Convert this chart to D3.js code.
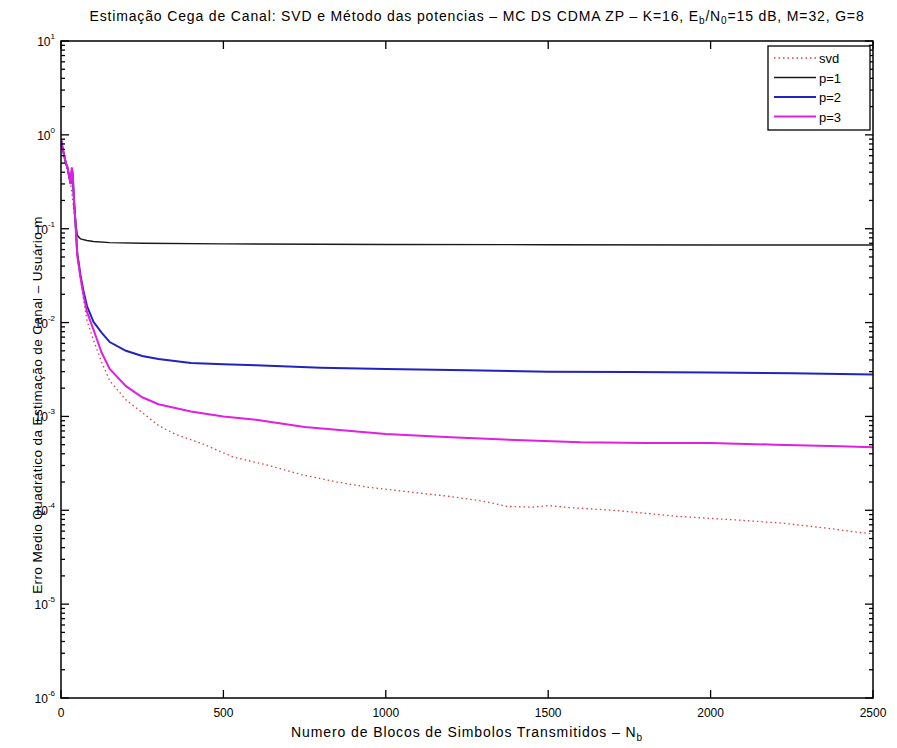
<!DOCTYPE html>
<html>
<head>
<meta charset="utf-8">
<script src="https://cdn.jsdelivr.net/npm/d3@7"></script>
<style>
  body { margin: 0; background: #fff; }
  text { font-family: "Liberation Sans", Arial, sans-serif; fill: #000; }
</style>
</head>
<body>
<div id="chart-container"></div>
<script>
// data (blocks -> mean squared error)
var xTicks = [0, 500, 1000, 1500, 2000, 2500];
var yExps = [1, 0, -1, -2, -3, -4, -5, -6];

var svdN = [0, 10, 20, 30, 40, 50, 60, 70, 80, 100, 125, 150, 200, 250, 300, 350, 430, 530, 640, 740, 850, 940, 1050, 1200, 1300, 1375, 1450, 1500, 1580, 1700, 1785, 1900, 2000, 2100, 2220, 2350, 2460, 2500];
var svdV = [0.85, 0.6, 0.42, 0.3, 0.15, 0.06, 0.03, 0.017, 0.0105, 0.0065, 0.0038, 0.0024, 0.0015, 0.0011, 0.0008, 0.00065, 0.00052, 0.00037, 0.0003, 0.00024, 0.0002, 0.000177, 0.00016, 0.00014, 0.000125, 0.00011, 0.000108, 0.000112, 0.000106, 0.0001, 0.000094, 0.000086, 0.000082, 0.000078, 0.000073, 0.000065, 0.000058, 0.000056];

var p1N = [0, 5, 10, 15, 20, 25, 30, 33, 36, 40, 45, 50, 60, 80, 100, 150, 250, 500, 1000, 1500, 2000, 2500];
var p1V = [0.9, 0.72, 0.6, 0.5, 0.45, 0.36, 0.3, 0.42, 0.38, 0.2, 0.12, 0.085, 0.078, 0.075, 0.073, 0.071, 0.070, 0.069, 0.068, 0.0675, 0.067, 0.067];

var p2N = [0, 5, 10, 15, 20, 25, 30, 33, 36, 40, 45, 50, 60, 70, 80, 100, 125, 150, 200, 250, 300, 400, 500, 600, 800, 1000, 1250, 1500, 1750, 2000, 2250, 2500];
var p2V = [0.9, 0.72, 0.6, 0.5, 0.45, 0.36, 0.3, 0.42, 0.38, 0.2, 0.11, 0.055, 0.032, 0.021, 0.015, 0.0102, 0.0078, 0.0062, 0.005, 0.0044, 0.0041, 0.0037, 0.0036, 0.0035, 0.0033, 0.0032, 0.0031, 0.0030, 0.00298, 0.00293, 0.00288, 0.0028];

var p3N = [0, 5, 10, 15, 20, 25, 30, 33, 36, 40, 45, 50, 60, 70, 80, 100, 125, 150, 200, 250, 300, 400, 500, 600, 750, 1000, 1200, 1400, 1600, 1800, 2000, 2200, 2400, 2500];
var p3V = [0.9, 0.72, 0.6, 0.5, 0.45, 0.36, 0.3, 0.45, 0.4, 0.2, 0.11, 0.052, 0.03, 0.019, 0.013, 0.0084, 0.0048, 0.0032, 0.0021, 0.0016, 0.00135, 0.00113, 0.001, 0.00092, 0.00077, 0.00065, 0.0006, 0.00056, 0.00053, 0.00052, 0.00052, 0.0005, 0.00048, 0.00047];

var seriesNames = ["svd", "p=1", "p=2", "p=3"];

var margin = { top: 41, right: 24, bottom: 50, left: 61 };
var width = 897 - margin.left - margin.right;
var height = 748 - margin.top - margin.bottom;

var svg = d3.select("#chart-container")
  .append("svg")
  .attr("width", 897)
  .attr("height", 748);

var g = svg.append("g")
  .attr("transform", "translate(" + margin.left + "," + margin.top + ")");

var xScale = d3.scaleLinear().domain([0, 2500]).range([0, width]);
var yScale = d3.scaleLog().domain([1e-6, 10]).range([height, 0]);

// lines
var line = d3.line()
  .x(function (d) { return xScale(d[0]); })
  .y(function (d) { return yScale(d[1]); });

function pairs(n, v) { return n.map(function (d, i) { return [d, v[i]]; }); }

g.append("clipPath").attr("id", "clip").append("rect").attr("width", width).attr("height", height);
var plot = g.append("g").attr("clip-path", "url(#clip)");

plot.append("path").datum(pairs(p1N, p1V)).attr("d", line)
  .style("fill", "none").style("stroke", "#1a1a1a").style("stroke-width", 1.4);
plot.append("path").datum(pairs(svdN, svdV)).attr("d", line)
  .style("fill", "none").style("stroke", "#d84040").style("stroke-width", 1.3)
  .style("stroke-dasharray", "1.5,3");
plot.append("path").datum(pairs(p2N, p2V)).attr("d", line)
  .style("fill", "none").style("stroke", "#2222c0").style("stroke-width", 2);
plot.append("path").datum(pairs(p3N, p3V)).attr("d", line)
  .style("fill", "none").style("stroke", "#e020e0").style("stroke-width", 2);

// frame
g.append("rect").attr("width", width).attr("height", height)
  .style("fill", "none").style("stroke", "#000").style("stroke-width", 1.5);

// minor + major ticks, drawn inward on all four sides like matlab
var yMinor = [];
for (var e = -6; e < 1; e++) {
  for (var k = 2; k <= 9; k++) yMinor.push(k * Math.pow(10, e));
}

function tickLines(sel, vals, len) {
  vals.forEach(function (v) {
    var y = yScale(v);
    sel.append("line").attr("x1", 0).attr("x2", len).attr("y1", y).attr("y2", y);
    sel.append("line").attr("x1", width).attr("x2", width - len).attr("y1", y).attr("y2", y);
  });
}

var ticks = g.append("g").attr("stroke", "#000").attr("stroke-width", 1.3);
tickLines(ticks, yMinor, 4);
tickLines(ticks, yExps.map(function (d) { return Math.pow(10, d); }), 8);
xTicks.forEach(function (v) {
  var x = xScale(v);
  ticks.append("line").attr("x1", x).attr("x2", x).attr("y1", height).attr("y2", height - 8);
  ticks.append("line").attr("x1", x).attr("x2", x).attr("y1", 0).attr("y2", 8);
});

// tick labels
xTicks.forEach(function (v) {
  g.append("text")
    .attr("x", xScale(v)).attr("y", height + 19)
    .attr("text-anchor", "middle").style("font-size", "12px")
    .text(v);
});

yExps.forEach(function (e) {
  var t = g.append("text")
    .attr("x", -6).attr("y", yScale(Math.pow(10, e)) + 5)
    .attr("text-anchor", "end").style("font-size", "12px");
  t.append("tspan").text("10");
  t.append("tspan").attr("dy", -7).style("font-size", "8px").text(e);
});

// titles
var title = svg.append("text")
  .attr("x", margin.left + width / 2 + 10).attr("y", 21)
  .attr("text-anchor", "middle").style("font-size", "14px")
  .style("letter-spacing", "0.85px");
title.append("tspan").text("Estimação Cega de Canal: SVD e Método das potencias – MC DS CDMA ZP – K=16, E");
title.append("tspan").attr("dy", 3).style("font-size", "10px").text("b");
title.append("tspan").attr("dy", -3).text("/N");
title.append("tspan").attr("dy", 3).style("font-size", "10px").text("0");
title.append("tspan").attr("dy", -3).text("=15 dB, M=32, G=8");

var xl = svg.append("text")
  .attr("x", margin.left + width / 2).attr("y", 737)
  .attr("text-anchor", "middle").style("font-size", "14px")
  .style("letter-spacing", "0.9px");
xl.append("tspan").text("Numero de Blocos de Simbolos Transmitidos – N");
xl.append("tspan").attr("dy", 4).style("font-size", "10px").text("b");

svg.append("text")
  .attr("transform", "translate(42,405) rotate(-90)")
  .attr("text-anchor", "middle").style("font-size", "13.5px")
  .style("letter-spacing", "0.4px")
  .text("Erro Medio Quadrático da Estimação de Canal – Usuário m");

// legend
var lx = 768, ly = 46, lw = 102, lh = 84;
var legend = svg.append("g");
legend.append("rect").attr("x", lx).attr("y", ly).attr("width", lw).attr("height", lh)
  .style("fill", "#fff").style("stroke", "#000").style("stroke-width", 1.3);

var legendStyles = [
  { color: "#d84040", w: 1.3, dash: "1.5,3" },
  { color: "#1a1a1a", w: 1.4, dash: null },
  { color: "#2222c0", w: 2, dash: null },
  { color: "#e020e0", w: 2, dash: null }
];

seriesNames.forEach(function (name, i) {
  var y = ly + 12 + i * 19.5;
  legend.append("line")
    .attr("x1", lx + 6).attr("x2", lx + 48).attr("y1", y).attr("y2", y)
    .style("stroke", legendStyles[i].color).style("stroke-width", legendStyles[i].w)
    .style("stroke-dasharray", legendStyles[i].dash);
  legend.append("text")
    .attr("x", lx + 51).attr("y", y + 5)
    .style("font-size", "13px")
    .text(name);
});
</script>
</body>
</html>
